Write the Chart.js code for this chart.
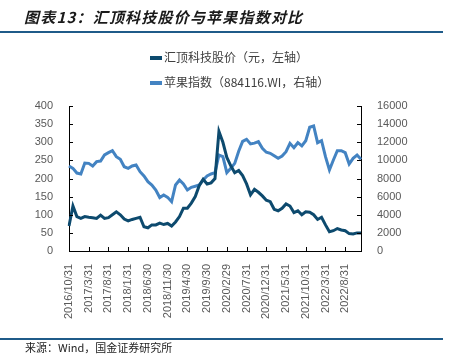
<!DOCTYPE html>
<html><head><meta charset="utf-8">
<script src="https://cdn.jsdelivr.net/npm/chart.js@4"></script>
<style>
html,body{margin:0;padding:0;background:#fff;}
#wrap{position:relative;width:449px;height:356px;overflow:hidden;}
#c{position:absolute;left:0;top:0;}
.title{position:absolute;left:24px;top:6px;font:italic bold 15px "Noto Sans CJK SC";color:#1a1a1a;letter-spacing:1.2px;white-space:nowrap;}
.rule{position:absolute;left:0;width:443px;height:2px;background:#1f5b89;}
.src{position:absolute;left:25px;top:339px;font:11px "Noto Sans CJK SC";color:#222;white-space:nowrap;}
.leg{position:absolute;left:150px;font:12px "Noto Sans CJK SC";color:#404040;white-space:nowrap;line-height:16px;}
.leg i{display:inline-block;width:12px;height:4px;vertical-align:middle;margin-right:2px;position:relative;top:-1px;}
</style></head>
<body>
<div id="wrap">
<canvas id="c" width="449" height="356"></canvas>
<div class="title">图表13：汇顶科技股价与苹果指数对比</div>
<div class="rule" style="top:31px"></div>
<div class="leg" style="top:49px"><i style="background:#0d4a6e"></i>汇顶科技股价（元，左轴）</div>
<div class="leg" style="top:74px"><i style="background:#4383c2"></i>苹果指数（884116.WI，右轴）</div>
<div class="rule" style="top:338px"></div>
<div class="src">来源：Wind，国金证券研究所</div>
</div>
<script>
// categories: month ends from 2016/10 to 2022/12
const startYear = 2016, startMonth = 10, monthCount = 75;
const categories = [];
for (let k = 0; k < monthCount; k++) {
  const mm = startMonth - 1 + k;
  const y = startYear + Math.floor(mm / 12), m = mm % 12 + 1;
  const d = new Date(y, m, 0).getDate();
  categories.push(y + '/' + m + '/' + d);
}
const tickLabels = ['2016/10/31','2017/3/31','2017/8/31','2018/1/31','2018/6/30','2018/11/30','2019/4/30','2019/9/30','2020/2/29','2020/7/31','2020/12/31','2021/5/31','2021/10/31','2022/3/31','2022/8/31'];

const goodixPrice = [69,124,95,90,95,93,92,90,99,90,92,100,108,100,88,83,87,90,93,67,
  64,72,72,77,73,76,69,80,95,118,118,132,150,180,198,185,188,200,330,300,
  258,235,216,222,208,185,155,170,162,152,140,136,115,111,118,130,124,106,111,100,
  108,107,100,87,93,72,53,56,62,58,56,48,47,50,50];
const appleIndex = [9380,9120,8600,8500,9700,9670,9380,9860,9930,10600,10850,11070,10410,10120,9300,9120,9380,9490,8750,8280,
  7650,7280,6730,5900,6180,5920,5440,7280,7830,7390,6730,7030,7150,7280,7830,8280,8500,8640,10590,10410,
  8640,9120,9670,11000,12100,12320,11810,11900,12060,11330,10900,10780,10500,10230,10480,10960,11880,11400,11950,11590,
  12170,13650,13790,11950,12170,10410,8940,10040,11070,11070,10850,9600,10230,10590,10120];

const inwardTicks = {
  id: 'inwardTicks',
  afterDraw(chart) {
    const ctx = chart.ctx, a = chart.chartArea;
    ctx.save();
    ctx.strokeStyle = '#000';
    ctx.lineWidth = 1;
    const yl = chart.scales.y, yr = chart.scales.y2, x = chart.scales.x;
    yl.ticks.forEach((t, i) => {
      const p = Math.round(yl.getPixelForTick(i)) + 0.5;
      ctx.beginPath(); ctx.moveTo(a.left, p); ctx.lineTo(a.left + 4, p); ctx.stroke();
    });
    yr.ticks.forEach((t, i) => {
      const p = Math.round(yr.getPixelForTick(i)) + 0.5;
      ctx.beginPath(); ctx.moveTo(a.right, p); ctx.lineTo(a.right - 4, p); ctx.stroke();
    });
    categories.forEach((c, i) => {
      if (tickLabels.indexOf(c) < 0) return;
      const p = Math.round(x.getPixelForValue(i)) + 0.5;
      ctx.beginPath(); ctx.moveTo(p, a.bottom); ctx.lineTo(p, a.bottom - 4); ctx.stroke();
    });
    ctx.restore();
  }
};

const tickFont = { family: '"Liberation Sans", Arial', size: 11 };
new Chart(document.getElementById('c'), {
  type: 'line',
  data: {
    labels: categories,
    datasets: [
      { label: '汇顶科技股价（元，左轴）', data: goodixPrice, yAxisID: 'y', borderColor: '#0d4a6e', borderWidth: 3, pointRadius: 0, tension: 0 },
      { label: '苹果指数（884116.WI，右轴）', data: appleIndex, yAxisID: 'y2', borderColor: '#4383c2', borderWidth: 3, pointRadius: 0, tension: 0 }
    ]
  },
  options: {
    responsive: false,
    animation: false,
    layout: { padding: { top: 106, left: 0, right: 0, bottom: 0 } },
    plugins: { legend: { display: false }, tooltip: { enabled: false } },
    scales: {
      x: {
        offset: false,
        grid: { display: false },
        border: { display: true, color: '#000', width: 1 },
        ticks: {
          autoSkip: false, maxRotation: 90, minRotation: 90, padding: 5,
          color: '#595959', font: tickFont,
          callback: function (v, i) { const l = categories[i]; return tickLabels.indexOf(l) >= 0 ? l : null; }
        },
        afterFit: s => { s.height = 105; }
      },
      y: {
        position: 'left', min: 0, max: 400,
        grid: { display: false },
        border: { display: true, color: '#000', width: 1 },
        ticks: { stepSize: 50, padding: 8, color: '#595959', font: tickFont, callback: v => String(v) },
        afterFit: s => { s.width = 69; }
      },
      y2: {
        position: 'right', min: 0, max: 16000,
        grid: { display: false },
        border: { display: true, color: '#000', width: 1 },
        ticks: { stepSize: 2000, padding: 8, color: '#595959', font: tickFont, callback: v => String(v) },
        afterFit: s => { s.width = 88; }
      }
    }
  },
  plugins: [inwardTicks]
});
</script>
</body></html>
